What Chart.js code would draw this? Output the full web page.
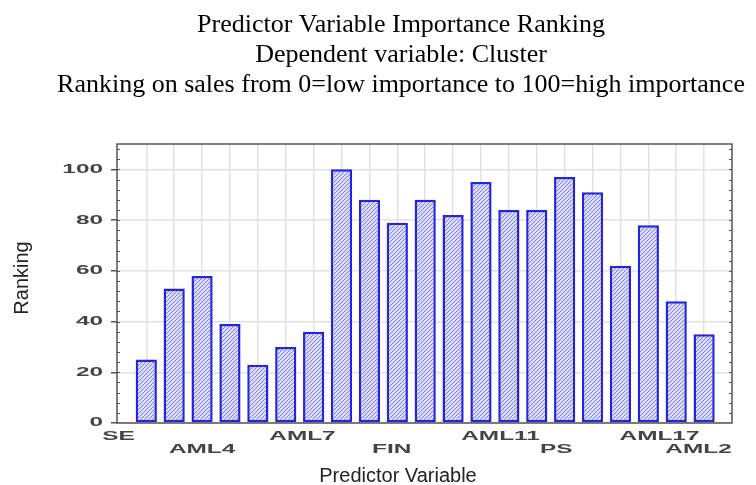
<!DOCTYPE html>
<html>
<head>
<meta charset="utf-8">
<script src="https://cdn.jsdelivr.net/npm/chart.js@4/dist/chart.umd.min.js"></script>
<style>
    html, body { margin: 0; padding: 0; background: #fff; }
    canvas { display: block; }
</style>
</head>
<body>
<canvas id="rankChart" width="756" height="485"></canvas>
<script>
// values, one bar per predictor
const rankings = [25, 53, 58, 39, 23, 30, 36, 100, 88, 79, 88, 82, 95, 84, 84, 97, 91, 62, 78, 48, 35];

// only some predictors are named on the axis (staggered on two rows)
const tickNames = ['SE', 'AML4', 'AML7', 'FIN', 'AML11', 'PS', 'AML17', 'AML2'];
const tickSpots = [0, 3, 6.6, 9.8, 13.7, 15.7, 19.4, 20.8];
const yTicks = [0, 20, 40, 60, 80, 100];

const titleLines = [
    'Predictor Variable Importance Ranking',
    'Dependent variable: Cluster',
    'Ranking on sales from 0=low importance to 100=high importance'
];
const xTitle = 'Predictor Variable';
const yTitle = 'Ranking';

function makeHatch() {
    const c = document.createElement('canvas');
    c.width = 4;
    c.height = 4;
    const g = c.getContext('2d');
    g.fillStyle = '#dcdcfc';
    g.fillRect(0, 0, 4, 4);
    g.strokeStyle = '#7c7ce6';
    g.lineWidth = 1;
    g.beginPath();
    g.moveTo(-1, 5); g.lineTo(5, -1);
    g.moveTo(-1, 1); g.lineTo(1, -1);
    g.moveTo(3, 5); g.lineTo(5, 3);
    g.stroke();
    return g.createPattern(c, 'repeat');
}

// frame, minor ticks and the stretched Statistica-like text
const textPlugin = {
    id: 'statText',
    afterDraw(chart) {
        const ctx = chart.ctx;
        const x = chart.scales.x;
        const y = chart.scales.y;
        const a = chart.chartArea;
        ctx.save();

        ctx.strokeStyle = '#555';
        ctx.lineWidth = 1.5;
        ctx.strokeRect(a.left, a.top, a.right - a.left, a.bottom - a.top);

        ctx.lineWidth = 1;
        ctx.beginPath();
        for (let v = 4; v < y.max; v += 4) {
            const py = Math.round(y.getPixelForValue(v)) + 0.5;
            ctx.moveTo(a.left, py); ctx.lineTo(a.left + 3, py);
            ctx.moveTo(a.right - 3, py); ctx.lineTo(a.right, py);
        }
        ctx.stroke();

        ctx.fillStyle = '#000';
        ctx.font = '26px "Liberation Serif", "Times New Roman", serif';
        ctx.textAlign = 'center';
        ctx.textBaseline = 'alphabetic';
        titleLines.forEach((t, i) => ctx.fillText(t, 401, 32 + 30 * i));

        ctx.fillStyle = '#222';
        ctx.font = '20px "Liberation Sans", Arial, sans-serif';
        ctx.fillText(xTitle, 398, 482);
        ctx.save();
        ctx.translate(28, 278);
        ctx.rotate(-Math.PI / 2);
        ctx.fillText(yTitle, 0, 0);
        ctx.restore();

        ctx.fillStyle = '#444';
        ctx.font = 'bold 12.5px "Liberation Sans", Arial, sans-serif';
        ctx.textBaseline = 'middle';
        yTicks.forEach(v => {
            ctx.save();
            ctx.translate(103, y.getPixelForValue(v));
            ctx.scale(1.95, 1);
            ctx.textAlign = 'right';
            ctx.fillText(String(v), 0, 0);
            ctx.restore();
        });
        tickNames.forEach((n, i) => {
            ctx.save();
            ctx.translate(x.getPixelForValue(tickSpots[i]), i % 2 ? 450 : 437);
            ctx.scale(1.95, 1);
            ctx.textAlign = 'center';
            ctx.fillText(n, 0, 0);
            ctx.restore();
        });

        ctx.restore();
    }
};

const ctx = document.getElementById('rankChart').getContext('2d');

new Chart(ctx, {
    type: 'bar',
    data: {
        datasets: [{
            data: rankings.map((v, i) => ({ x: i + 1, y: v })),
            backgroundColor: makeHatch(),
            borderColor: '#2424dc',
            borderWidth: 2.5,
            borderSkipped: false,
            categoryPercentage: 1,
            barPercentage: 0.76
        }]
    },
    options: {
        responsive: false,
        animation: false,
        layout: { padding: { top: 144, right: 24, left: 0, bottom: 0 } },
        scales: {
            x: {
                type: 'linear',
                min: -0.05,
                max: 22,
                offset: false,
                afterBuildTicks: s => { s.ticks = rankings.map((_, i) => ({ value: i + 1 })); },
                afterFit: s => { s.height = 62; },
                grid: { offset: false, color: '#e2e2e2', lineWidth: 1.5, drawTicks: false },
                border: { display: false },
                ticks: { display: false }
            },
            y: {
                min: 0,
                max: 110,
                afterBuildTicks: s => { s.ticks = yTicks.map(v => ({ value: v })); },
                afterFit: s => { s.width = 117; },
                grid: { color: '#e2e2e2', lineWidth: 1.5, tickLength: 6, tickColor: '#555' },
                border: { display: false },
                ticks: { display: false }
            }
        },
        plugins: {
            legend: { display: false },
            tooltip: { enabled: false },
            title: { display: false }
        }
    },
    plugins: [textPlugin]
});
</script>
</body>
</html>
